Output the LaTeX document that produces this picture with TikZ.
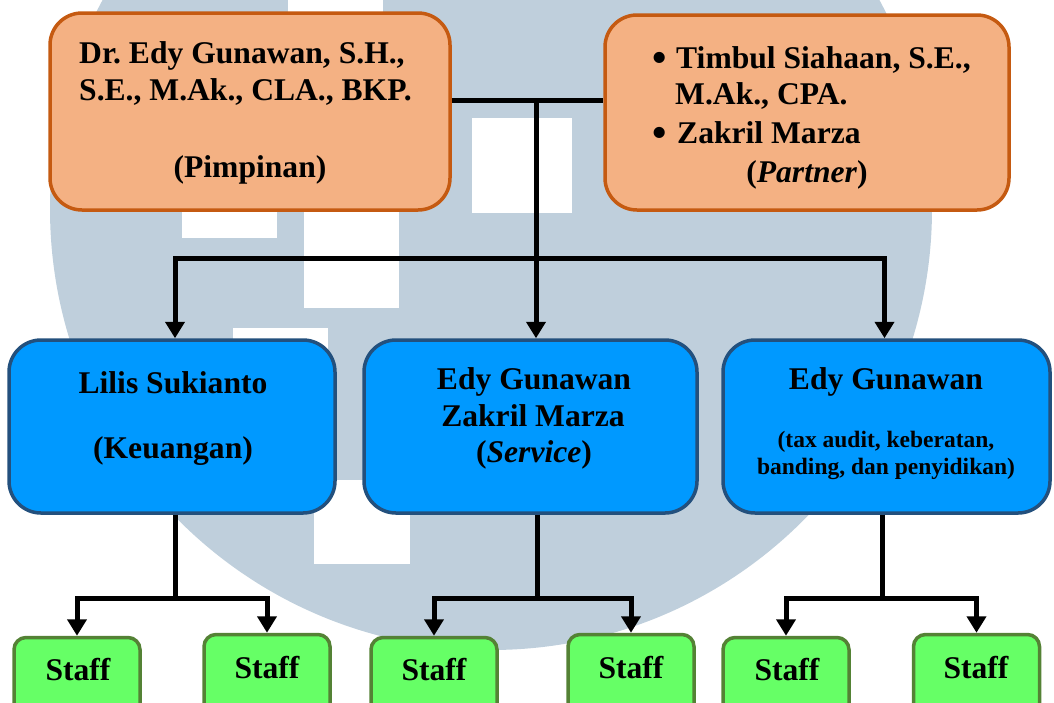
\documentclass[tikz,border=0pt]{standalone}
\usepackage{fontspec}
\setmainfont{Liberation Serif}
\frenchspacing
\usetikzlibrary{arrows.meta}
\definecolor{wm}{RGB}{191,207,220}
\definecolor{orfill}{RGB}{244,177,131}
\definecolor{ordraw}{RGB}{197,90,17}
\definecolor{blfill}{RGB}{0,153,255}
\definecolor{bldraw}{RGB}{35,80,125}
\definecolor{grfill}{RGB}{102,255,102}
\definecolor{grdraw}{RGB}{84,130,53}
\tikzset{
  obox/.style={draw=ordraw, fill=orfill, line width=3.5pt, rounded corners=32pt, inner sep=0pt},
  bbox/.style={draw=bldraw, fill=blfill, line width=3.5pt, rounded corners=32pt, inner sep=0pt, minimum height=173pt},
  sbox/.style={draw=grdraw, fill=grfill, line width=3.5pt, rounded corners=12pt, inner sep=0pt, minimum width=126pt, minimum height=84pt},
  txt/.style={font=\fontsize{31.6}{38}\selectfont\bfseries\frenchspacing, inner sep=0pt, text=black},
  bul/.style={font=\fontsize{41}{41}\selectfont\bfseries, inner sep=0pt, text=black},
  smalltxt/.style={font=\fontsize{23.5}{27}\selectfont\bfseries\frenchspacing, inner sep=0pt, text=black},
  conn/.style={line width=5pt, draw=black},
  arr/.style={conn, -{Triangle[width=19pt,length=16.5pt]}},
  hole/.style={fill=white}
}
\begin{document}
\begin{tikzpicture}[x=1pt,y=-1pt]
\useasboundingbox (0,0) rectangle (1054,702);
\clip (0,0) rectangle (1054,702);
% watermark
\fill[wm] (491,209) circle[radius=441pt];
\fill[hole] (288,-10) rectangle (383,60);
\fill[hole] (182,150) rectangle (277,238);
\fill[hole] (304,150) rectangle (399,308);
\fill[hole] (472,118) rectangle (572,213);
\fill[hole] (233,328) rectangle (328,380);
\fill[hole] (314,480) rectangle (410,564);
% boxes
\node[obox, minimum width=400pt, minimum height=197pt] (p1) at (250,111.5) {};
\node[obox, minimum width=404pt, minimum height=195pt] (p2) at (807,112.5) {};
\node[bbox, minimum width=326pt] (b1) at (172,426.5) {};
\node[bbox, minimum width=333pt] (b2) at (530.5,426.5) {};
\node[bbox, minimum width=327pt] (b3) at (886.5,426.5) {};
\node[sbox] (s1) at (77,679.5) {};
\node[sbox] (s2) at (267,676.5) {};
\node[sbox] (s3) at (434,679.5) {};
\node[sbox] (s4) at (631,676.5) {};
\node[sbox] (s5) at (786,679.5) {};
\node[sbox] (s6) at (976.5,676.5) {};
% texts
\node[txt, anchor=base west] (t1) at (79,63) {Dr. Edy Gunawan, S.H.,};
\node[txt, anchor=base west] (t2) at (79,100) {S.E., M.Ak., CLA., BKP.};
\node[txt, anchor=base] (t3) at (250,177) {(Pimpinan)};
\node[bul, anchor=base west] (t4) at (652,71) {\textbullet};
\node[txt, anchor=base west] (t5) at (676,68) {Timbul Siahaan, S.E.,};
\node[txt, anchor=base west] (t6) at (675,104) {M.Ak., CPA.};
\node[bul, anchor=base west] (t7) at (652,146) {\textbullet};
\node[txt, anchor=base west] (t8) at (677,143) {Zakril Marza};
\node[txt, anchor=base] (t9) at (807,182) {(\textit{Partner})};
\node[txt, anchor=base] (t10) at (173,393) {Lilis Sukianto};
\node[txt, anchor=base] (t11) at (173,458) {(Keuangan)};
\node[txt, anchor=base] (t12) at (534,389) {Edy Gunawan};
\node[txt, anchor=base] (t13) at (533,426) {Zakril Marza};
\node[txt, anchor=base] (t14) at (534,462) {(\textit{Service})};
\node[txt, anchor=base] (t15) at (886,389) {Edy Gunawan};
\node[smalltxt, anchor=base] (t16) at (886,447) {(tax audit, keberatan,};
\node[smalltxt, anchor=base] (t17) at (886,474) {banding, dan penyidikan)};
\node[txt, anchor=base] (u1) at (78,680) {Staff};
\node[txt, anchor=base] (u2) at (267,678) {Staff};
\node[txt, anchor=base] (u3) at (434,680) {Staff};
\node[txt, anchor=base] (u4) at (631,678) {Staff};
\node[txt, anchor=base] (u5) at (787,680) {Staff};
\node[txt, anchor=base] (u6) at (976,678) {Staff};
% connectors
\coordinate (tj) at (536,100);
\coordinate (hb) at (536,258);
\draw[conn] (tj -| p1.east) -- (tj -| p2.west);
\draw[arr] (tj) -- (tj |- b2.north);
\draw[arr] (hb) -| ([xshift=3pt]b1.north);
\draw[arr] (hb) -| ([xshift=-2pt]b3.north);
\draw[arr] ([xshift=3pt]b1.south) -- ++(0,83.5) -| (s1.north);
\draw[arr] ([xshift=3pt]b1.south) -- ++(0,83.5) -| (s2.north);
\draw[arr] ([xshift=6.5pt]b2.south) -- ++(0,83.5) -| (s3.north);
\draw[arr] ([xshift=6.5pt]b2.south) -- ++(0,83.5) -| (s4.north);
\draw[arr] ([xshift=-4.5pt]b3.south) -- ++(0,83.5) -| (s5.north);
\draw[arr] ([xshift=-4.5pt]b3.south) -- ++(0,83.5) -| (s6.north);
\end{tikzpicture}
\end{document}
